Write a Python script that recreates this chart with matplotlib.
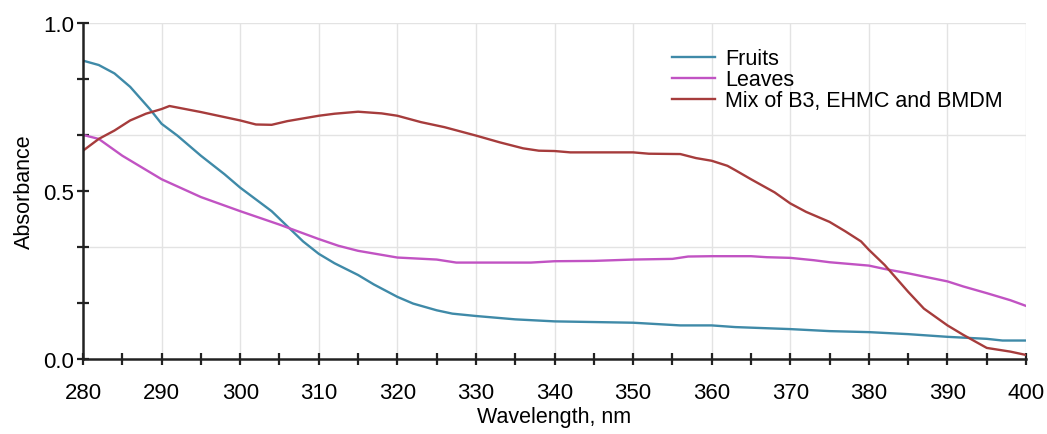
import numpy as np
import matplotlib
matplotlib.use("Agg")
import matplotlib.pyplot as plt
from matplotlib.ticker import MultipleLocator, FixedLocator

plt.rcParams['font.family'] = ['Liberation Sans', 'DejaVu Sans']

# values
wl_fruits = [280, 282, 284, 286, 288.5, 290, 292, 295, 298, 300, 302, 304, 306, 308, 310, 312, 315,
             317, 320, 322, 325, 327, 330, 335, 340, 350, 356, 360, 363, 370, 375, 380, 385, 390,
             395, 397, 400]
fruits = [0.888, 0.875, 0.85, 0.81, 0.744, 0.70, 0.665, 0.605, 0.55, 0.51, 0.475, 0.44, 0.395, 0.35,
          0.313, 0.285, 0.25, 0.222, 0.185, 0.165, 0.145, 0.135, 0.128, 0.118, 0.112, 0.108, 0.10,
          0.10, 0.095, 0.089, 0.083, 0.08, 0.074, 0.066, 0.06, 0.055, 0.055]

wl_leaves = [280, 282, 285, 290, 295, 300, 305, 310, 312.5, 315, 320, 325, 327.5, 337, 340, 345,
             350, 355, 357, 360, 365, 367, 370, 373, 375, 380, 382, 385, 390, 392, 395, 398, 400]
leaves = [0.667, 0.655, 0.605, 0.535, 0.482, 0.44, 0.40, 0.357, 0.337, 0.322, 0.302, 0.296, 0.287, 0.287,
          0.291, 0.292, 0.296, 0.298, 0.305, 0.306, 0.306, 0.303, 0.301, 0.294, 0.288, 0.278, 0.268,
          0.255, 0.231, 0.216, 0.196, 0.175, 0.158]

wl_mix = [280, 282, 284, 286, 288, 290, 291, 295, 300, 302, 304, 306, 310, 312, 315, 318, 320, 323,
          326, 330, 333, 336, 338, 340, 342, 350, 352, 356, 358, 360, 362, 363, 365, 368, 370, 372, 375,
          377, 379, 380, 382, 385, 387, 390, 392, 395, 398, 400]
mix = [0.62, 0.655, 0.68, 0.71, 0.73, 0.744, 0.753, 0.735, 0.71, 0.698, 0.697, 0.708, 0.724, 0.73,
       0.736, 0.731, 0.724, 0.705, 0.69, 0.665, 0.645, 0.627, 0.62, 0.619, 0.615, 0.615, 0.611, 0.61,
       0.598, 0.59, 0.575, 0.562, 0.535, 0.496, 0.463, 0.438, 0.408, 0.38, 0.35, 0.325, 0.28, 0.2,
       0.15, 0.1, 0.072, 0.033, 0.022, 0.012]

labels = ['Fruits', 'Leaves', 'Mix of B3, EHMC and BMDM']
colors = ['#3f8aa8', '#c153c3', '#a63c3c']

fig = plt.figure(figsize=(10.47, 4.35), dpi=100)
ax = fig.add_axes([0.0793, 0.1724, 0.9007, 0.7724])

ax.plot(wl_fruits, fruits, color=colors[0], lw=1.7, label=labels[0])
ax.plot(wl_leaves, leaves, color=colors[1], lw=1.7, label=labels[1])
ax.plot(wl_mix, mix, color=colors[2], lw=1.7, label=labels[2])

ax.set_xlim(280, 400)
ax.set_ylim(0, 1.0)

ax.xaxis.set_major_locator(MultipleLocator(10))
ax.xaxis.set_minor_locator(MultipleLocator(5))
ax.yaxis.set_major_locator(FixedLocator([0, 0.5, 1.0]))
ax.yaxis.set_minor_locator(FixedLocator([1/6, 2/6, 4/6, 5/6]))

# grid: vertical every 10 nm, horizontal every third
for x in range(290, 401, 10):
    ax.axvline(x, color='#e3e3e3', lw=1.0, zorder=0)
for y in [1/3, 2/3, 1.0]:
    ax.axhline(y, color='#e3e3e3', lw=1.0, zorder=0)

for s in ['top', 'right']:
    ax.spines[s].set_visible(False)
for s in ['left', 'bottom']:
    ax.spines[s].set_linewidth(1.8)
    ax.spines[s].set_color('#222222')

ax.tick_params(axis='both', which='both', direction='inout', length=9, width=1.6,
               color='#222222', labelsize=16)
ax.tick_params(axis='x', pad=12)
ax.tick_params(axis='y', pad=2)

ax.set_xlabel('Wavelength, nm', fontsize=15.5, labelpad=2)
ax.set_ylabel('Absorbance', fontsize=15.5, labelpad=6)

ax.legend(loc='upper left', bbox_to_anchor=(0.615, 0.95), frameon=False, fontsize=15.5,
          handlelength=2.0, handletextpad=0.5, labelspacing=0.0, borderaxespad=0)

fig.savefig('out.png', dpi=100)
